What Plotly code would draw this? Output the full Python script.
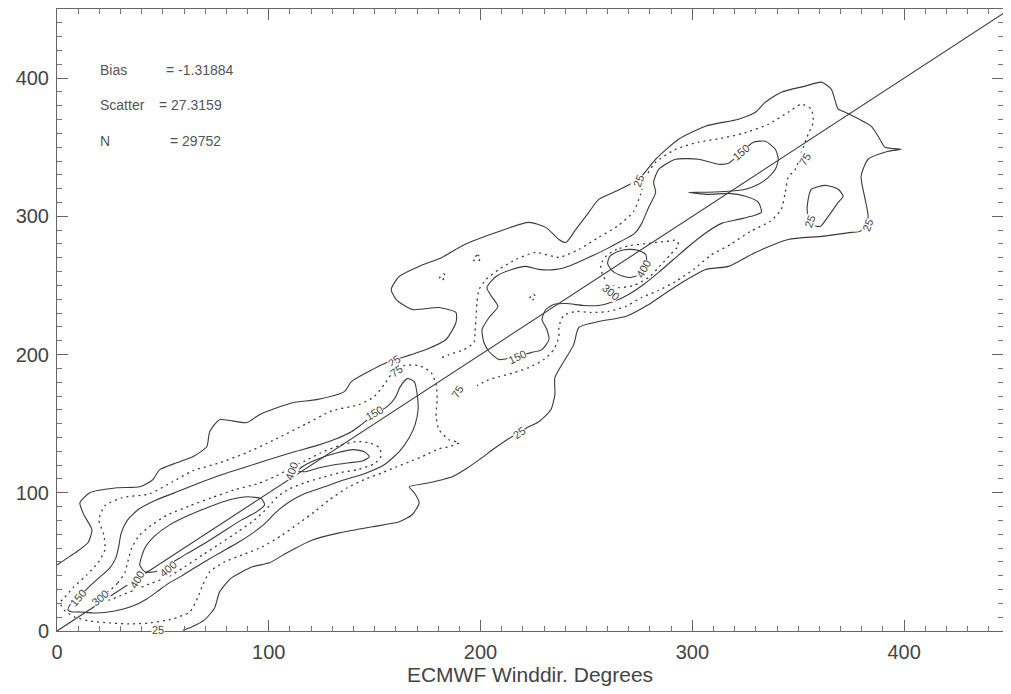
import plotly.graph_objects as go

# ---------------- data (degrees) ----------------
one_to_one = [0, 450]

c25_outer_x = [0, 8.5, 14.6, 16.5, 12.7, 10.8, 15.5, 28.3, 39.1, 45.2, 48.5, 56.5, 64.1, 70.7, 72.1, 76.8, 89.5, 95.6,
               111.2, 122.5, 135.7, 139, 148.9, 156.9, 163, 174.3, 183.7, 188.4, 188.4, 180.4, 167.7, 160.2, 157.8,
               161.6, 171, 181.8, 189.9, 196, 208.7, 222.8, 230.8, 237, 240.3, 245, 251.1, 255.8, 263.8, 274.7, 282.7,
               293.5, 306.2, 321.8, 329.8, 334.5, 342, 353.3, 360.9, 365.6, 368.9, 372.2, 384.4, 387.7, 391, 398.6,
               392.4, 383, 379.7, 381.6, 383, 379.2, 375, 360.9, 345.3, 329.8, 317.1, 306.2, 295.9, 286.4, 279.4,
               268.5, 255.8, 246.4, 244, 239.3, 235.1, 235.1, 233.2, 227.5, 221.9, 212.5, 206.3, 200.7, 193.2, 186.6,
               175.7, 166.3, 168.7, 171, 167.7, 161.6, 148.9, 133.3, 120.6, 108.4, 100.3, 92.3, 82.4, 76.8, 74.4,
               69.7, 63.6, 59.4]
c25_outer_y = [47.8, 56.5, 63.8, 73.2, 84.1, 92.7, 100, 103.6, 104.3, 109.4, 116.7, 121.7, 126.1, 133.3, 144.2, 152.9,
               150.7, 156.5, 165.2, 167.4, 173.2, 180.4, 189.1, 194.9, 197.8, 203.6, 210.9, 223.2, 230.4, 234, 232.6,
               239.8, 247.1, 256.5, 263.8, 270.3, 277.5, 281.9, 289.1, 295.6, 292, 283.3, 281.1, 290.6, 302.9, 312.3,
               318.1, 326.8, 341.3, 355.8, 365.2, 370.3, 375.3, 382.6, 389.8, 394.2, 397.1, 392, 377.5, 375.3, 365.2,
               358, 350, 348.5, 347.1, 341.3, 329, 312.3, 299.3, 289.1, 288.4, 285.5, 283.3, 273.9, 263.8, 261.6,
               252.9, 243.5, 236.2, 227.5, 223.9, 219.6, 207.2, 194.9, 183.3, 171, 160.1, 151.4, 147.1, 138.4, 131.9,
               125.4, 117.4, 111.6, 107.2, 104.3, 100, 92.7, 84.1, 79, 75.4, 71, 65.9, 56.5, 49.3, 46.4, 38.4, 28.3,
               16.7, 8, 2.9, 0.5]

c25_loop_x = [354.7, 356.2, 362.8, 368.9, 371.2, 368.9, 364.2, 360.4, 356.2, 354.3, 354.7]
c25_loop_y = [312.3, 319.6, 322.4, 319.6, 314.5, 310.1, 300, 292.7, 294.2, 302.9, 312.3]

c75_a_x = [1.4, 3.8, 7.5, 14.1, 19.3, 22.6, 22.1, 19.8, 22.6, 30.6, 43.8, 54.6, 64.1, 76.8, 89.5, 101.8, 117.8, 130,
           142.7, 149.8, 154.5, 157.8, 163.9, 171, 176.7, 179, 179.5, 179, 180.4, 185.1, 189.9, 185.1, 180.4, 174.3,
           167.7, 160.2, 153.6, 146, 137.1, 128.6, 121.5, 114.5, 106.5, 97, 87.6, 79.1, 72.1, 68.8, 66.4, 62.7,
           54.6, 43.8, 34.4, 25, 15.5, 8.5, 3.8, 1.4]
c75_a_y = [20.3, 24.6, 31.2, 40.6, 49.3, 58.7, 69.6, 80.4, 90.6, 96.4, 99.3, 108, 115.9, 121.7, 129, 137.7, 150, 159.4,
           163.8, 169.6, 178.3, 185.5, 192, 192, 186.9, 178.3, 167.4, 155.1, 145.6, 138.4, 136.2, 133.3, 131.9,
           127.5, 123.2, 118.8, 114.5, 110.1, 103.6, 94.9, 86.2, 78.3, 69.6, 60.9, 55.1, 50, 42.8, 33.3, 23.9, 13.8,
           8.7, 5.8, 5.1, 5.8, 7.2, 10.1, 14.5, 20.3]

c75_b_x = [181.8, 185.1, 192.2, 196.9, 197.4, 197.9, 198.3, 199.3, 202.6, 208.7, 216.7, 226.1, 237, 246.4, 255.8,
           265.2, 272.3, 275.6, 277.9, 282.7, 292.1, 302.9, 313.8, 324.1, 335.9, 345.3, 351.4, 356.2, 357.1, 354.7,
           352.4, 348.6, 345.3, 343.9, 342, 336.8, 327.4, 318, 308.6, 300.6, 292.1, 284.1, 276.1, 268.5, 260.5,
           252.5, 245, 239.3, 237, 237, 234.6, 229.9, 222.8, 215.8, 208.7, 203, 198.3]
c75_b_y = [197.8, 200, 203.6, 208.7, 216.7, 226.8, 237.7, 247.1, 254.3, 261.6, 268.8, 273.9, 270.3, 276.1, 284.8,
           293.5, 303.6, 315.9, 328.2, 339.1, 348.5, 353.6, 356.5, 360.1, 366.6, 375.3, 381.1, 377.5, 368.1, 359.4,
           350, 334, 328.2, 317.4, 305.1, 296.4, 289.1, 279.7, 271.7, 261.6, 252.9, 246.4, 241.3, 234.8, 231.2,
           230.4, 231.2, 228.3, 220.3, 213, 203.6, 196.4, 190.6, 186.9, 184, 181.2, 177.5]

c75_bits_x = [[196.5, 198.5, 200, 199, 196.5], [180.5, 182.5, 183.5, 182, 180.5], [223, 225, 226, 224.5, 223]]
c75_bits_y = [[268.5, 272, 270.5, 267.5, 268.5], [255, 258.5, 256.5, 254, 255], [240.5, 243.5, 242, 239.5, 240.5]]

c150_a_x = [5.2, 6.1, 9.9, 14.6, 20.3, 25, 27.8, 29.2, 30.2, 33, 38.2, 47.1, 57.9, 67.4, 77.7, 89.5, 101.3, 112.1,
            122.5, 131.9, 139, 143.7, 149.8, 155.9, 159.7, 162.1, 165.4, 168.7, 170.1, 170.5, 169.1, 166.3, 161.6,
            154.5, 145.1, 135.7, 126.3, 116.8, 109.8, 103.6, 98, 91.9, 85.3, 77.7, 71.1, 65, 58.9, 52.3, 47.1, 42.4,
            35.8, 27.3, 17.9, 10.8, 7.1, 5.2]
c150_a_y = [15.2, 18.8, 23.9, 31.2, 39.1, 45.7, 52.9, 61.6, 70.3, 79.7, 87.7, 94.9, 101.4, 107.2, 113, 118.8, 124.6,
            129.7, 134.1, 139.1, 144.2, 149.3, 156.5, 162.3, 168.8, 176.8, 182.6, 180.4, 171, 160.1, 149.3, 139.8,
            129.7, 120.3, 113.8, 109.4, 104.3, 99.3, 93.5, 86.2, 77.5, 70.3, 63.8, 57.2, 51.4, 45.7, 39.9, 34.1,
            28.3, 23.2, 18.1, 14.5, 13, 13.8, 13.8, 15.2]

c150_b_x = [208.7, 204, 201.6, 200.7, 204, 208.2, 204.9, 203, 207.3, 214.8, 221.4, 227.5, 235.6, 242.6, 250.2, 259.1,
            266.2, 272.8, 276.1, 279.4, 282.7, 281.7, 284.1, 292.1, 302.9, 312.3, 317.1, 323.2, 328.8, 334.5, 339.2,
            340.6, 339.2, 335.9, 331.2, 325.1, 317.1, 307.6, 298.2, 307.6, 317.1, 325.1, 331.2, 332.6, 327.9, 321.8,
            313.8, 305.3, 298.2, 291.1, 284.1, 277, 269.9, 262.9, 255.8, 248.7, 240.3, 234.6, 230.8, 229, 231.3,
            232.3, 229, 223.8, 208.7]
c150_b_y = [196.4, 202.2, 208.7, 218.1, 226.8, 234.8, 242.7, 248.5, 256.5, 261.6, 263.8, 261.6, 261.6, 264.5, 269.6,
            276.1, 281.9, 287.7, 294.9, 306.5, 317.4, 324.6, 334, 341.3, 341.3, 337.7, 338.4, 346.4, 353.6, 354.3,
            348.5, 341.3, 334, 328.2, 323.2, 319.6, 318.1, 317.4, 317.4, 315.9, 316.6, 314.5, 310.1, 302.9, 300,
            297.8, 294.9, 286.9, 278.2, 268.8, 259.4, 250.7, 243.5, 238.4, 235.5, 235.5, 236.9, 236.2, 232.6, 225.3,
            218.1, 210.9, 203.6, 201.4, 196.4]

c300_a_x = [24, 28.7, 32, 33.4, 35.3, 39.1, 44.8, 52.3, 62.7, 73, 83.9, 94.7, 102.7, 109.8, 117.3, 124.8, 133.3, 141.3,
            147.5, 152.2, 153.1, 149.8, 141.8, 133.3, 124.8, 116.8, 109.8, 104.1, 99.4, 93.3, 85.3, 76.8, 68.8, 60.3,
            52.3, 43.8, 36.7, 29.7, 25, 19.3, 17.9, 20.3, 24]
c300_a_y = [28.3, 34.8, 42, 50, 60.1, 69.6, 76.8, 84.1, 90.6, 96.4, 102.2, 106.5, 111.6, 117.4, 123.2, 129, 134.1, 137,
            136.2, 132.6, 126.8, 121, 116.7, 114.5, 110.9, 107.2, 102.9, 97.1, 89.1, 80.4, 71.7, 63, 55.1, 46.4,
            39.1, 34.1, 29.7, 25.4, 22.5, 22.5, 25.4, 27.5, 28.3]

c300_b_x = [270.9, 264.3, 259.6, 256.8, 257.7, 260.5, 265.2, 272.3, 279.4, 285, 289.7, 293.5, 292.6, 287.8, 279.4, 270.9]
c300_b_y = [279, 276.1, 271.7, 265.2, 257.2, 251.4, 248.5, 250, 255.8, 264.5, 272.4, 279, 282.6, 281.9, 280.4, 279]

c400_a_x = [39.1, 41.5, 46.2, 53.2, 62.7, 72.1, 81.5, 90, 96.6, 98, 94.2, 87.2, 79.1, 70.2, 61.2, 53.2, 46.2, 41.5, 39.1]
c400_a_y = [47.8, 60.1, 68.8, 76.8, 84.1, 89.9, 94.9, 97.1, 95.6, 91.3, 86.2, 80.4, 72.5, 63.8, 55.8, 48.5, 42.8, 42.8, 47.8]

c400_b_x = [113.5, 118.2, 124.8, 132.4, 139.9, 145.1, 147.5, 144.6, 138, 131, 123.9, 117.3, 113.5]
c400_b_y = [115.9, 121, 125.4, 129, 131.2, 129.7, 126.1, 123.2, 121.7, 120.3, 118.1, 115.2, 115.9]

c400_c_x = [278.4, 278, 274.7, 270, 264.8, 261, 260, 261.9, 266.2, 270.9, 275.1, 277.5, 278.4]
c400_c_y = [267.4, 272.4, 275.3, 276.1, 274.6, 271, 265.9, 260.9, 257.2, 255.8, 257.9, 262.3, 267.4]

label_text = ["25", "75", "25", "25", "25", "25", "25", "75", "75", "150", "150", "150", "150",
              "300", "300", "400", "400", "400", "400"]
label_x = [159.2, 160.2, 274.7, 383, 218.1, 47.6, 355.7, 353.3, 188.9, 9.9, 149.8, 217.2, 323.2,
           20.3, 261.5, 37.7, 52.3, 110.7, 277]
label_y = [195.6, 188.4, 325.4, 293.5, 143.5, 0.5, 296.4, 341.3, 173.2, 23.9, 158, 198.5, 346.4,
           23.9, 245.4, 37, 44.9, 115.9, 261.6]
label_angle = [-35, -35, -70, -70, -35, 0, -70, -60, -60, -50, -30, -25, -40, -40, 40, -60, -40, -70, -60]

stats_names = ["Bias", "Scatter", "N"]
stats_values = ["= -1.31884", "= 27.3159", "= 29752"]

x_ticks = [0, 100, 200, 300, 400]
y_ticks = [0, 100, 200, 300, 400]

# ---------------- figure ----------------
INK = "#3a3a3a"
FONT = "Liberation Sans, Arial, Helvetica, sans-serif"
SOLID = dict(color=INK, width=1.1, shape="spline", smoothing=0.6)
DOTTED = dict(color=INK, width=1.3, dash="2px,4px", shape="spline", smoothing=0.6)

fig = go.Figure()

def add_line(xs, ys, style):
    fig.add_trace(go.Scatter(x=xs, y=ys, mode="lines", line=style, hoverinfo="skip", showlegend=False))

add_line(one_to_one, one_to_one, dict(color=INK, width=1.1))
add_line(c25_outer_x, c25_outer_y, SOLID)
add_line(c25_loop_x, c25_loop_y, SOLID)
add_line(c75_a_x, c75_a_y, DOTTED)
add_line(c75_b_x, c75_b_y, DOTTED)
for bx, by in zip(c75_bits_x, c75_bits_y):
    add_line(bx, by, DOTTED)
add_line(c150_a_x, c150_a_y, SOLID)
add_line(c150_b_x, c150_b_y, SOLID)
add_line(c300_a_x, c300_a_y, DOTTED)
add_line(c300_b_x, c300_b_y, DOTTED)
add_line(c400_a_x, c400_a_y, SOLID)
add_line(c400_b_x, c400_b_y, SOLID)
add_line(c400_c_x, c400_c_y, SOLID)

for t, lx, ly, ang in zip(label_text, label_x, label_y, label_angle):
    fig.add_annotation(x=lx, y=ly, text=t, showarrow=False, textangle=ang,
                       font=dict(family=FONT, size=11, color="#444"),
                       bgcolor="white", borderpad=0)

stat_rows = [0.902, 0.845, 0.788]
stat_value_x = [0.1131, 0.1058, 0.1174]
for name, val, yy, vx in zip(stats_names, stats_values, stat_rows, stat_value_x):
    fig.add_annotation(xref="paper", yref="paper", x=0.043, y=yy, text=name, showarrow=False,
                       xanchor="left", yanchor="middle", font=dict(family=FONT, size=14, color="#555"))
    fig.add_annotation(xref="paper", yref="paper", x=vx, y=yy, text=val, showarrow=False,
                       xanchor="left", yanchor="middle", font=dict(family=FONT, size=14, color="#555"))

axis_common = dict(
    showgrid=False, zeroline=False, showline=True, linecolor="#666", linewidth=1,
    mirror="allticks", ticks="inside", ticklen=11, tickcolor="#666", tickwidth=1,
    minor=dict(ticks="inside", ticklen=5, dtick=10, tickcolor="#777", showgrid=False),
    tickfont=dict(family=FONT, size=20, color="#444"), automargin=False,
)

fig.update_xaxes(**axis_common, range=[0, 446.7], tickvals=x_ticks, ticktext=[str(v) for v in x_ticks],
                 ticklabelstandoff=3,
                 title=dict(text="ECMWF Winddir. Degrees", font=dict(family=FONT, size=21, color="#444"), standoff=4))
fig.update_yaxes(**axis_common, range=[0, 450], tickvals=y_ticks, ticktext=[str(v) for v in y_ticks],
                 ticklabelstandoff=3)

# the page body adds an 8 px margin; the figure is sized so the page does not overflow the window
fig.update_layout(
    width=995, height=678,
    margin=dict(l=49, r=0, t=1, b=55, autoexpand=False),
    paper_bgcolor="white", plot_bgcolor="white",
    showlegend=False,
)

fig.write_html("out.html")
